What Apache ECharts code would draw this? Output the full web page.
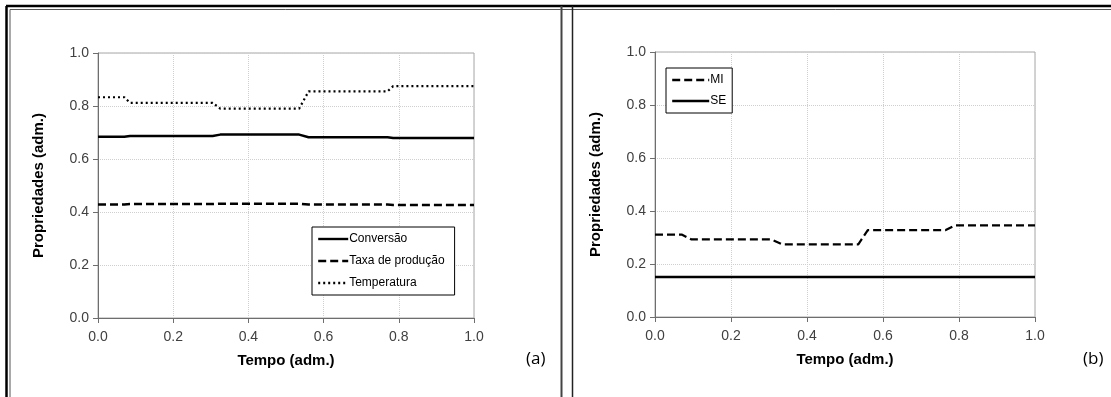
<!DOCTYPE html>
<html>
<head>
<meta charset="utf-8">
<script src="https://cdn.jsdelivr.net/npm/echarts@6/dist/echarts.min.js"></script>
<style>
html,body{margin:0;padding:0;background:#fff;}
#c{width:1111px;height:397px;}
</style>
</head>
<body>
<div id="c"></div>
<script>
// Panel (a)
var timeA = [0, 0.07, 0.085, 0.305, 0.325, 0.535, 0.56, 0.77, 0.785, 1.0];
var conversao = [0.684, 0.684, 0.687, 0.687, 0.692, 0.692, 0.682, 0.682, 0.679, 0.679];
var taxaProducao = [0.428, 0.428, 0.430, 0.430, 0.431, 0.431, 0.428, 0.428, 0.426, 0.426];
var temperatura = [0.833, 0.833, 0.812, 0.812, 0.790, 0.790, 0.855, 0.855, 0.875, 0.875];
// Panel (b)
var timeB = [0, 0.07, 0.095, 0.305, 0.335, 0.535, 0.56, 0.765, 0.79, 1.0];
var mi = [0.311, 0.311, 0.293, 0.293, 0.274, 0.274, 0.328, 0.328, 0.346, 0.346];
var timeSE = [0, 1.0];
var se = [0.151, 0.151];

function pairs(xs, ys){ return xs.map(function(x,i){ return [x, ys[i]]; }); }

var FONT = '"Liberation Sans", Arial, sans-serif';
function xAxis(idx){
  return {
    type:'value', gridIndex:idx, min:0, max:1, interval:0.2,
    name:'Tempo (adm.)', nameLocation:'middle', nameGap:35,
    nameTextStyle:{fontFamily:FONT,fontSize:15,fontWeight:'bold',color:'#000'},
    axisLine:{show:true,lineStyle:{color:'#6e6e6e',width:1}},
    axisTick:{show:true,length:5,lineStyle:{color:'#6e6e6e'}},
    axisLabel:{fontFamily:FONT,fontSize:14,color:'#404040',margin:12,formatter:function(v){return v.toFixed(1);}},
    splitLine:{show:true,lineStyle:{color:'#cfcfcf',type:'dotted',width:1}}
  };
}
function yAxis(idx){
  return {
    type:'value', gridIndex:idx, min:0, max:1, interval:0.2,
    name:'Propriedades (adm.)', nameLocation:'middle', nameGap:52,
    nameTextStyle:{fontFamily:FONT,fontSize:15,fontWeight:'bold',color:'#000'},
    axisLine:{show:true,lineStyle:{color:'#6e6e6e',width:1}},
    axisTick:{show:true,length:5,lineStyle:{color:'#6e6e6e'}},
    axisLabel:{fontFamily:FONT,fontSize:14,color:'#404040',margin:9,formatter:function(v){return v.toFixed(1);}},
    splitLine:{show:true,lineStyle:{color:'#cfcfcf',type:'dotted',width:1}}
  };
}
function line(name, xs, ys, gi, type, w){
  return {
    name:name, type:'line', xAxisIndex:gi, yAxisIndex:gi,
    data:pairs(xs, ys), symbol:'none', showSymbol:false, animation:false,
    lineStyle:{color:'#000', width:w, type:type},
    itemStyle:{color:'#000'}
  };
}

var chart = echarts.init(document.getElementById('c'), null, {renderer:'canvas'});
chart.setOption({
  animation:false,
  backgroundColor:'#fff',
  grid:[
    {left:98, top:53, width:376, height:265, show:true, borderColor:'#a6a6a6', borderWidth:1, backgroundColor:'transparent'},
    {left:655, top:52, width:380, height:265, show:true, borderColor:'#a6a6a6', borderWidth:1, backgroundColor:'transparent'}
  ],
  xAxis:[xAxis(0), xAxis(1)],
  yAxis:[yAxis(0), yAxis(1)],
  legend:[
    {
      data:['Conversão','Taxa de produção','Temperatura'],
      orient:'vertical', left:312, top:227,
      itemWidth:30, itemHeight:14, itemGap:10,
      padding:[6,10,6,5],
      itemStyle:{opacity:0},
      lineStyle:{width:2.4},
      backgroundColor:'#fff', borderColor:'#000', borderWidth:1, borderRadius:0,
      textStyle:{fontFamily:FONT,fontSize:12,color:'#000',padding:[0,0,0,-4]}
    },
    {
      data:['MI','SE'],
      orient:'vertical', left:666, top:68,
      itemWidth:37, itemHeight:14, itemGap:9,
      padding:[6,6,6,5],
      itemStyle:{opacity:0},
      lineStyle:{width:2.4},
      backgroundColor:'#fff', borderColor:'#000', borderWidth:1, borderRadius:0,
      textStyle:{fontFamily:FONT,fontSize:12,color:'#000',padding:[0,0,0,-4]}
    }
  ],
  series:[
    line('Conversão', timeA, conversao, 0, 'solid', 2.5),
    line('Taxa de produção', timeA, taxaProducao, 0, [8,4], 2.5),
    line('Temperatura', timeA, temperatura, 0, [2,3], 2.2),
    line('MI', timeB, mi, 1, [8,4], 2.2),
    line('SE', timeSE, se, 1, 'solid', 2.5)
  ],
  graphic:[
    {type:'line', shape:{x1:6,y1:6,x2:1111,y2:6}, style:{stroke:'#000',lineWidth:2.5}, silent:true},
    {type:'line', shape:{x1:10,y1:9.5,x2:1111,y2:9.5}, style:{stroke:'#555',lineWidth:1}, silent:true},
    {type:'line', shape:{x1:6.5,y1:6,x2:6.5,y2:397}, style:{stroke:'#000',lineWidth:2.5}, silent:true},
    {type:'line', shape:{x1:10,y1:9.5,x2:10,y2:397}, style:{stroke:'#555',lineWidth:1}, silent:true},
    {type:'line', shape:{x1:561.5,y1:6,x2:561.5,y2:397}, style:{stroke:'#444',lineWidth:2}, silent:true},
    {type:'line', shape:{x1:572.5,y1:6,x2:572.5,y2:397}, style:{stroke:'#222',lineWidth:1.5}, silent:true},
    {type:'text', left:526, top:351, style:{text:'(a)', font:'17px "Open Sans", "Liberation Sans", sans-serif', fill:'#000'}, silent:true},
    {type:'text', left:1083, top:351, style:{text:'(b)', font:'17px "Open Sans", "Liberation Sans", sans-serif', fill:'#000'}, silent:true}
  ]
});
</script>
</body>
</html>
